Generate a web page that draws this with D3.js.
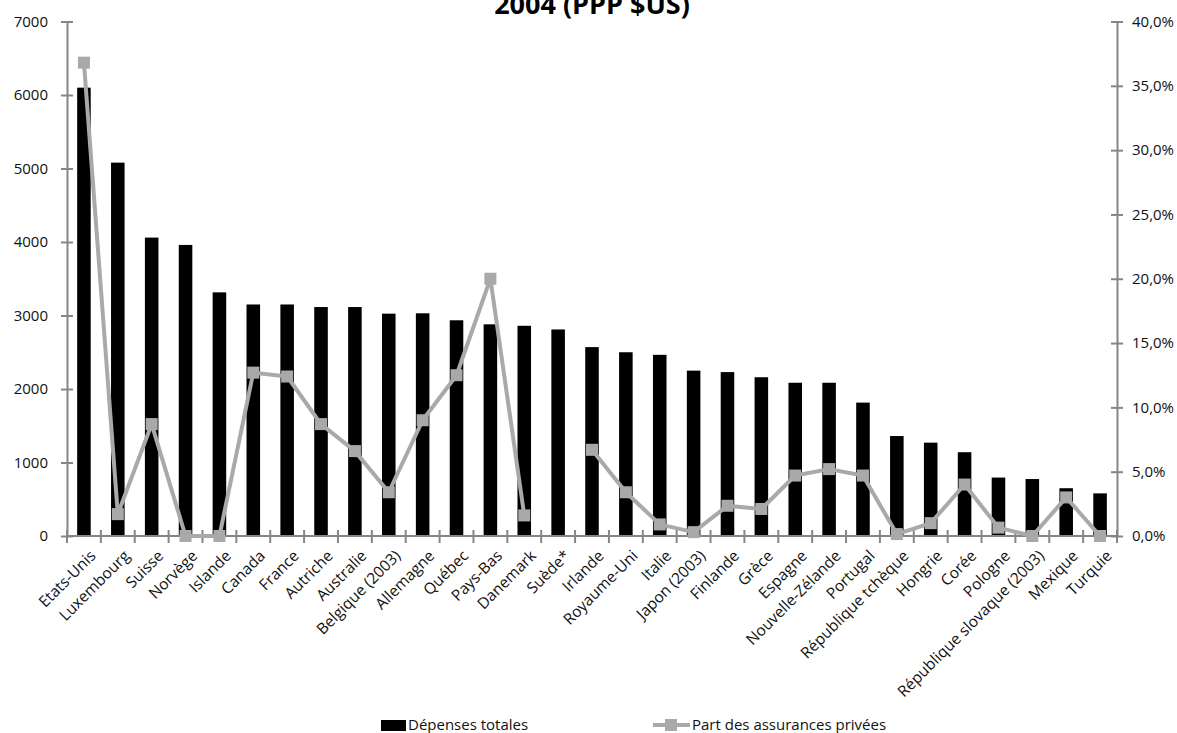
<!DOCTYPE html>
<html>
<head>
<meta charset="utf-8">
<script src="https://cdn.jsdelivr.net/npm/d3@7"></script>
<style>
  body { margin: 0; background: #fff; }
  svg { display: block; font-family: "Open Sans", sans-serif; }
</style>
</head>
<body>
<svg width="1177" height="733"></svg>
<script>
const countries = ["Etats-Unis", "Luxembourg", "Suisse", "Norvège", "Islande", "Canada", "France",
  "Autriche", "Australie", "Belgique (2003)", "Allemagne", "Québec", "Pays-Bas", "Danemark", "Suède*",
  "Irlande", "Royaume-Uni", "Italie", "Japon (2003)", "Finlande", "Grèce", "Espagne", "Nouvelle-Zélande",
  "Portugal", "République tchèque", "Hongrie", "Corée", "Pologne", "République slovaque (2003)",
  "Mexique", "Turquie"];

// Dépenses totales (PPP $US)
const totalSpending = [6100, 5080, 4060, 3960, 3315, 3150, 3150, 3115, 3115, 3025, 3030, 2935, 2880,
  2860, 2810, 2570, 2500, 2465, 2250, 2230, 2160, 2085, 2085, 1815, 1360, 1270, 1140, 795, 775, 650, 580];

// Part des assurances privées (%), Suède sans donnée
const privateShare = [36.8, 1.7, 8.7, 0, 0, 12.7, 12.4, 8.7, 6.6, 3.4, 9.0, 12.5, 20.0, 1.6, null,
  6.7, 3.4, 0.9, 0.3, 2.35, 2.1, 4.7, 5.2, 4.7, 0.15, 1.0, 4.0, 0.65, 0, 3.0, 0];

const leftTicks = [0, 1000, 2000, 3000, 4000, 5000, 6000, 7000];
const rightTicks = [0, 5, 10, 15, 20, 25, 30, 35, 40];
const titleText = "2004 (PPP $US)";
const legendBar = "Dépenses totales";
const legendLine = "Part des assurances privées";

const svg = d3.select("svg");
const plotLeft = 67, plotRight = 1117, plotTop = 21.5, plotBottom = 536;
const axisColor = "#868686", lineColor = "#a9a9a9";

const x = d3.scaleBand().domain(countries).range([plotLeft, plotRight]).paddingInner(0).paddingOuter(0);
const yL = d3.scaleLinear().domain([0, 7000]).range([plotBottom, plotTop]);
const yR = d3.scaleLinear().domain([0, 40]).range([plotBottom, plotTop]);

const frLocale = d3.formatLocale({ decimal: ",", thousands: " ", grouping: [3], currency: ["", " €"] });
const pct = frLocale.format(".1f");

// title (its upper part falls outside the picture, as in the source)
svg.append("text")
  .attr("x", (plotLeft + plotRight) / 2)
  .attr("y", 14)
  .attr("text-anchor", "middle")
  .attr("font-size", 27)
  .attr("font-weight", "bold")
  .text(titleText);

// bars
const barW = x.bandwidth() * 0.4;
svg.append("g").selectAll("rect")
  .data(totalSpending)
  .enter().append("rect")
  .attr("x", (d, i) => x(countries[i]) + (x.bandwidth() - barW) / 2)
  .attr("y", d => yL(d))
  .attr("width", barW)
  .attr("height", d => plotBottom - yL(d))
  .attr("fill", "#000");

// left axis
const gL = svg.append("g")
  .attr("transform", `translate(${plotLeft},0)`)
  .call(d3.axisLeft(yL).tickValues(leftTicks).tickSizeInner(6).tickSizeOuter(0).tickPadding(13)
    .tickFormat(d3.format("d")));
gL.selectAll(".tick line").attr("x1", 6);

// right axis
const gR = svg.append("g")
  .attr("transform", `translate(${plotRight},0)`)
  .call(d3.axisRight(yR).tickValues(rightTicks).tickSizeInner(6).tickSizeOuter(0).tickPadding(9)
    .tickFormat(d => pct(d) + "%"));
gR.selectAll(".tick line").attr("x1", -6);

[gL, gR].forEach(g => {
  g.select(".domain").attr("stroke", axisColor).attr("stroke-width", 2);
  g.selectAll(".tick line").attr("stroke", axisColor).attr("stroke-width", 2);
  g.selectAll(".tick text").attr("font-size", 15).attr("fill", "#111").attr("font-family", "Open Sans");
});

// x axis line and ticks at the category boundaries
const bounds = countries.map(c => x(c)).concat([x(countries[countries.length - 1]) + x.bandwidth()]);
svg.append("line")
  .attr("x1", plotLeft).attr("x2", plotRight)
  .attr("y1", plotBottom).attr("y2", plotBottom)
  .attr("stroke", axisColor).attr("stroke-width", 2);
svg.append("g").selectAll("line")
  .data(bounds)
  .enter().append("line")
  .attr("x1", d => d).attr("x2", d => d)
  .attr("y1", plotBottom - 6).attr("y2", plotBottom + 7)
  .attr("stroke", axisColor).attr("stroke-width", 2);

// rotated category labels
svg.append("g").selectAll("text")
  .data(countries)
  .enter().append("text")
  .attr("transform", d => `translate(${x(d) + x.bandwidth() / 2 + 5},549) rotate(-45)`)
  .attr("text-anchor", "end")
  .attr("dy", "0.71em")
  .attr("font-size", 15.5)
  .attr("fill", "#111")
  .text(d => d);

// line for private insurance share
const line = d3.line()
  .defined(d => d != null)
  .x((d, i) => x(countries[i]) + x.bandwidth() / 2)
  .y(d => yR(d));
svg.append("path")
  .datum(privateShare)
  .attr("d", line)
  .attr("fill", "none")
  .attr("stroke", lineColor)
  .attr("stroke-width", 4)
  .attr("stroke-linejoin", "round");

const mk = 12;
svg.append("g").selectAll("rect")
  .data(privateShare.map((v, i) => ({ v, c: countries[i] })).filter(d => d.v != null))
  .enter().append("rect")
  .attr("x", d => x(d.c) + x.bandwidth() / 2 - mk / 2)
  .attr("y", d => yR(d.v) - mk / 2)
  .attr("width", mk).attr("height", mk)
  .attr("fill", lineColor);

// legend
const lg = svg.append("g");
lg.append("rect").attr("x", 381).attr("y", 720).attr("width", 25).attr("height", 11).attr("fill", "#000");
lg.append("text").attr("x", 408).attr("y", 730).attr("font-size", 15).attr("fill", "#111").text(legendBar);
lg.append("line").attr("x1", 653).attr("x2", 690).attr("y1", 725).attr("y2", 725)
  .attr("stroke", lineColor).attr("stroke-width", 4);
lg.append("rect").attr("x", 665).attr("y", 719).attr("width", mk).attr("height", mk).attr("fill", lineColor);
lg.append("text").attr("x", 692).attr("y", 730).attr("font-size", 15).attr("fill", "#111").text(legendLine);
</script>
</body>
</html>
